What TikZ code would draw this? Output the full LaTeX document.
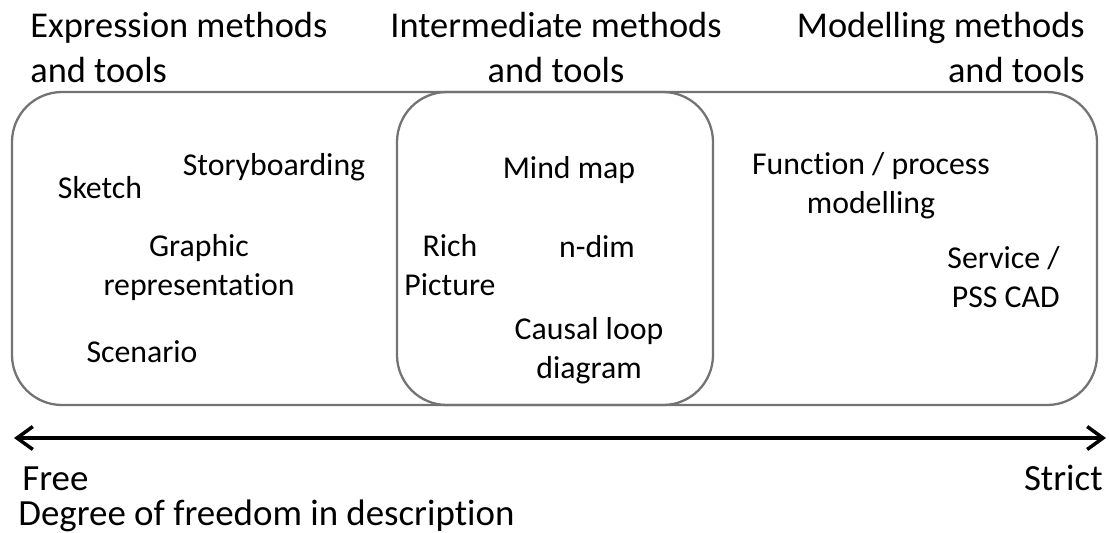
\documentclass[tikz,border=0pt]{standalone}
\usepackage{fontspec}
\setmainfont{Carlito}[Ligatures=NoCommon]
\usepackage{tikz}
\usetikzlibrary{arrows.meta}

\tikzset{
  group/.style={draw=black!55, line width=1.3pt, rounded corners=1cm},
  head/.style={inner sep=0pt, font=\fontsize{20.7}{25.5}\selectfont},
  tool/.style={inner sep=0pt, align=center, font=\fontsize{18.1}{21.8}\selectfont},
  axislabel/.style={inner sep=0pt, font=\fontsize{21}{25}\selectfont}
}

\begin{document}
\begin{tikzpicture}[x=0.02cm, y=-0.02cm]
    \useasboundingbox (0,0) rectangle (1109,532);

    % Headings (base = last line)
    \node[head, anchor=base west, align=left] (expr) at (30,82) {Expression methods\\and tools};
    \node[head, anchor=base, align=center] (inter) at (556,82) {Intermediate methods\\and tools};
    \node[head, anchor=base east, align=right] (model) at (1085,82) {Modelling methods\\and tools};

    % Boxes
    \draw[group] (12,92) rectangle (1097,405);
    \draw[group] (397,92) rectangle (713,405);

    % Expression methods
    \node[tool, anchor=base] (sketch) at (100,198) {Sketch};
    \node[tool, anchor=base] (story) at (274,175) {Storyboarding};
    \node[tool, anchor=base] (graphic) at (199,295) {Graphic\\representation};
    \node[tool, anchor=base] (scen) at (142,362) {Scenario};

    % Intermediate methods
    \node[tool, anchor=base] (mind) at (569,178) {Mind map};
    \node[tool, anchor=base] (rich) at (450,295) {Rich\\Picture};
    \node[tool, anchor=base] (ndim) at (597,257) {n-dim};
    \node[tool, anchor=base] (causal) at (589,378) {Causal loop\\diagram};

    % Modelling methods
    \node[tool, anchor=base] (func) at (871,213) {Function / process\\modelling};
    \node[tool, anchor=base east, align=right] (pss) at (1060,307) {Service /\\PSS CAD};

    % Scale
    \coordinate (free end) at (14,438);
    \coordinate (strict end) at (1106,438);
    \draw[{Straight Barb[length=9pt,width=13pt]}-{Straight Barb[length=9pt,width=13pt]}, line width=2pt] (free end) -- (strict end);

    \node[axislabel, anchor=base west] (free) at (22,490) {Free};
    \node[axislabel, anchor=base east] (strict) at (1103,490) {Strict};
    \node[axislabel, anchor=base west] (degree) at (18,525) {Degree of freedom in description};
\end{tikzpicture}
\end{document}
